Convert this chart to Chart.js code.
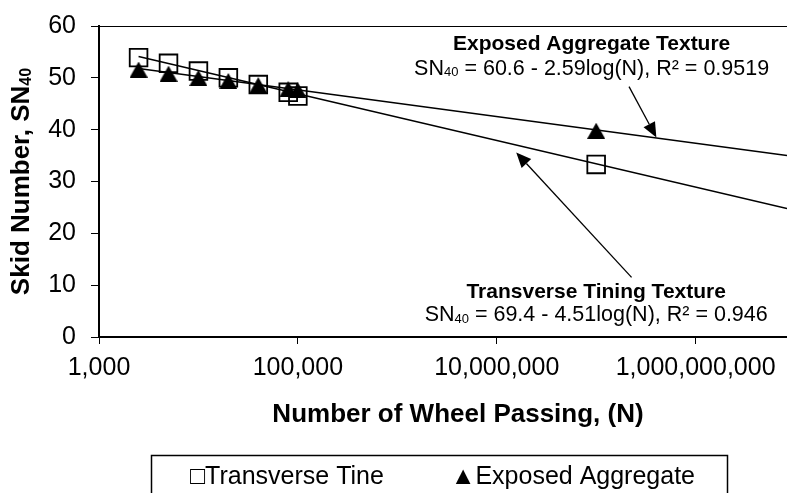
<!DOCTYPE html>
<html>
<head>
<meta charset="utf-8">
<script src="https://cdn.jsdelivr.net/npm/chart.js@4.4.1/dist/chart.umd.min.js"></script>
<style>
  html, body { margin: 0; padding: 0; background: #fff; overflow: hidden; }
  canvas { display: block; }
</style>
</head>
<body>
<canvas id="chart" width="787" height="493"></canvas>
<script>
// values
var passes   = [2500, 5000, 10000, 20000, 40000, 80000, 100000, 100000000];
var tineSN   = [53.9, 52.8, 51.3, 50.0, 48.7, 47.2, 46.5, 33.3];
var aggSN    = [51.6, 50.8, 50.0, 49.4, 48.6, 47.8, 47.6, 39.8];
var trendN   = [2500, 8.3e9];
var tineFit  = [54.1, 24.8];
var aggFit   = [51.8, 35.0];
var xTicks   = [1000, 100000, 10000000, 1000000000];
var yTicks   = [0, 10, 20, 30, 40, 50, 60];

var FONT = '"Liberation Sans", Arial, sans-serif';
Chart.defaults.color = '#000';
Chart.defaults.font.family = FONT;

function pts(xs, ys) {
    return xs.map(function(x, i) { return { x: x, y: ys[i] }; });
}

// filled triangle marker, centred on its bounding box like the original
function triangleMarker(w, h) {
    var c = document.createElement('canvas');
    c.width = w; c.height = h;
    var g = c.getContext('2d');
    g.fillStyle = '#000';
    g.beginPath();
    g.moveTo(0, h);
    g.lineTo(w / 2, 0);
    g.lineTo(w, h);
    g.closePath();
    g.fill();
    return c;
}

// annotations placed in data units
var notes = [
    { title: 'Exposed Aggregate Texture', eq: ['SN', '40', ' = 60.6 - 2.59log(N), R\u00B2 = 0.9519'],
      x: 9.0e7, yTitle: 56.5, yEq: 51.7,
      arrow: { from: [2.14e8, 48.3], to: [4.03e8, 38.5] } },
    { title: 'Transverse Tining Texture', eq: ['SN', '40', ' = 69.4 - 4.51log(N), R\u00B2 = 0.946'],
      x: 1.0e8, yTitle: 8.7, yEq: 4.2,
      arrow: { from: [2.27e8, 11.5], to: [1.57e7, 35.6] } }
];

function drawSub(ctx, parts, cx, cy, size) {
    var big = size + 'px ' + FONT, small = Math.round(size * 0.62) + 'px ' + FONT;
    ctx.font = big;
    var w0 = ctx.measureText(parts[0]).width;
    var w2 = ctx.measureText(parts[2]).width;
    ctx.font = small;
    var w1 = ctx.measureText(parts[1]).width;
    var x = cx - (w0 + w1 + w2) / 2;
    ctx.textAlign = 'left';
    ctx.textBaseline = 'middle';
    ctx.font = big;
    ctx.fillText(parts[0], x, cy);
    ctx.font = small;
    ctx.fillText(parts[1], x + w0, cy + size * 0.18);
    ctx.font = big;
    ctx.fillText(parts[2], x + w0 + w1, cy);
}

function arrow(ctx, x1, y1, x2, y2) {
    var ang = Math.atan2(y2 - y1, x2 - x1), len = 15, half = 6.5;
    var bx = x2 - Math.cos(ang) * len, by = y2 - Math.sin(ang) * len;
    ctx.beginPath();
    ctx.moveTo(x1, y1);
    ctx.lineTo(bx, by);
    ctx.stroke();
    ctx.beginPath();
    ctx.moveTo(x2, y2);
    ctx.lineTo(bx + Math.sin(ang) * half, by - Math.cos(ang) * half);
    ctx.lineTo(bx - Math.sin(ang) * half, by + Math.cos(ang) * half);
    ctx.closePath();
    ctx.fill();
}

var extras = {
    id: 'extras',
    afterDraw: function(chart) {
        var ctx = chart.ctx, a = chart.chartArea;
        var xs = chart.scales.x, ys = chart.scales.y;
        ctx.save();
        ctx.strokeStyle = '#000';
        ctx.fillStyle = '#000';

        // top border of plot area
        ctx.lineWidth = 1;
        ctx.beginPath();
        ctx.moveTo(a.left, a.top + 0.5);
        ctx.lineTo(a.right, a.top + 0.5);
        ctx.stroke();

        // notes and arrows
        notes.forEach(function(n) {
            var cx = xs.getPixelForValue(n.x);
            ctx.font = 'bold 21px ' + FONT;
            ctx.textAlign = 'center';
            ctx.textBaseline = 'middle';
            ctx.fillText(n.title, cx, ys.getPixelForValue(n.yTitle));
            drawSub(ctx, n.eq, cx, ys.getPixelForValue(n.yEq), 21.5);
            ctx.lineWidth = 1.3;
            arrow(ctx,
                xs.getPixelForValue(n.arrow.from[0]), ys.getPixelForValue(n.arrow.from[1]),
                xs.getPixelForValue(n.arrow.to[0]), ys.getPixelForValue(n.arrow.to[1]));
        });

        // y axis title (rotated, with subscript)
        ctx.save();
        ctx.translate(22, (a.top + a.bottom) / 2);
        ctx.rotate(-Math.PI / 2);
        var size = 26;
        var bigF = 'bold ' + size + 'px ' + FONT, smallF = 'bold ' + Math.round(size * 0.62) + 'px ' + FONT;
        var t0 = 'Skid Number, SN', t1 = '40';
        ctx.font = bigF;
        var w0 = ctx.measureText(t0).width;
        ctx.font = smallF;
        var w1 = ctx.measureText(t1).width;
        var sx = -(w0 + w1) / 2;
        ctx.textAlign = 'left';
        ctx.textBaseline = 'middle';
        ctx.font = bigF;
        ctx.fillText(t0, sx, 0);
        ctx.font = smallF;
        ctx.fillText(t1, sx + w0, size * 0.18);
        ctx.restore();

        // x axis title
        ctx.font = 'bold 26px ' + FONT;
        ctx.textAlign = 'center';
        ctx.textBaseline = 'middle';
        ctx.fillText('Number of Wheel Passing, (N)', 458, 415);

        // legend box (cut off at the bottom like the original)
        ctx.lineWidth = 1.5;
        ctx.strokeRect(151.5, 455.5, 576, 60);
        ctx.font = '25px ' + FONT;
        ctx.textAlign = 'left';
        ctx.fillText('\u25A1Transverse Tine', 190, 477);
        ctx.textAlign = 'right';
        ctx.fillText('\u25B2Exposed Aggregate', 695, 477);

        ctx.restore();
    }
};

new Chart(document.getElementById('chart'), {
    type: 'scatter',
    data: {
        datasets: [
            { label: 'Transverse fit', data: pts(trendN, tineFit), showLine: true,
              borderColor: '#000', borderWidth: 1.5, pointRadius: 0, order: 0 },
            { label: 'Exposed fit', data: pts(trendN, aggFit), showLine: true,
              borderColor: '#000', borderWidth: 1.5, pointRadius: 0, order: 0 },
            { label: 'Exposed Aggregate', data: pts(passes, aggSN),
              pointStyle: triangleMarker(18, 16), pointRadius: 9, order: 1 },
            { label: 'Transverse Tine', data: pts(passes, tineSN),
              pointStyle: 'rect', pointRadius: 12.5, backgroundColor: 'rgba(255,255,255,0)',
              borderColor: '#000', borderWidth: 1.8, order: 2 }
        ]
    },
    options: {
        responsive: false,
        animation: false,
        layout: { autoPadding: false, padding: { top: 26, right: 0, bottom: 0, left: 0 } },
        plugins: { legend: { display: false }, tooltip: { enabled: false } },
        scales: {
            x: {
                type: 'logarithmic',
                min: 1000,
                max: 8.3e9,
                afterBuildTicks: function(scale) {
                    scale.ticks = xTicks.map(function(v) { return { value: v }; });
                },
                afterFit: function(scale) {
                    scale.height = 156;
                    scale.paddingLeft = 0;
                    scale.paddingRight = 0;
                },
                ticks: {
                    font: { size: 25 },
                    padding: 9,
                    maxRotation: 0,
                    autoSkip: false,
                    callback: function(v) { return Number(v).toLocaleString('en-US'); }
                },
                grid: { drawOnChartArea: false, color: '#000', lineWidth: 1, tickLength: 7 },
                border: { color: '#000', width: 2 }
            },
            y: {
                min: 0,
                max: 60,
                afterBuildTicks: function(scale) {
                    scale.ticks = yTicks.map(function(v) { return { value: v }; });
                },
                afterFit: function(scale) {
                    scale.width = 99;
                    scale.paddingTop = 0;
                    scale.paddingBottom = 0;
                },
                ticks: { font: { size: 25 }, padding: 15 },
                grid: { drawOnChartArea: false, color: '#000', lineWidth: 1, tickLength: 8 },
                border: { color: '#000', width: 2 }
            }
        }
    },
    plugins: [extras]
});
</script>
</body>
</html>
